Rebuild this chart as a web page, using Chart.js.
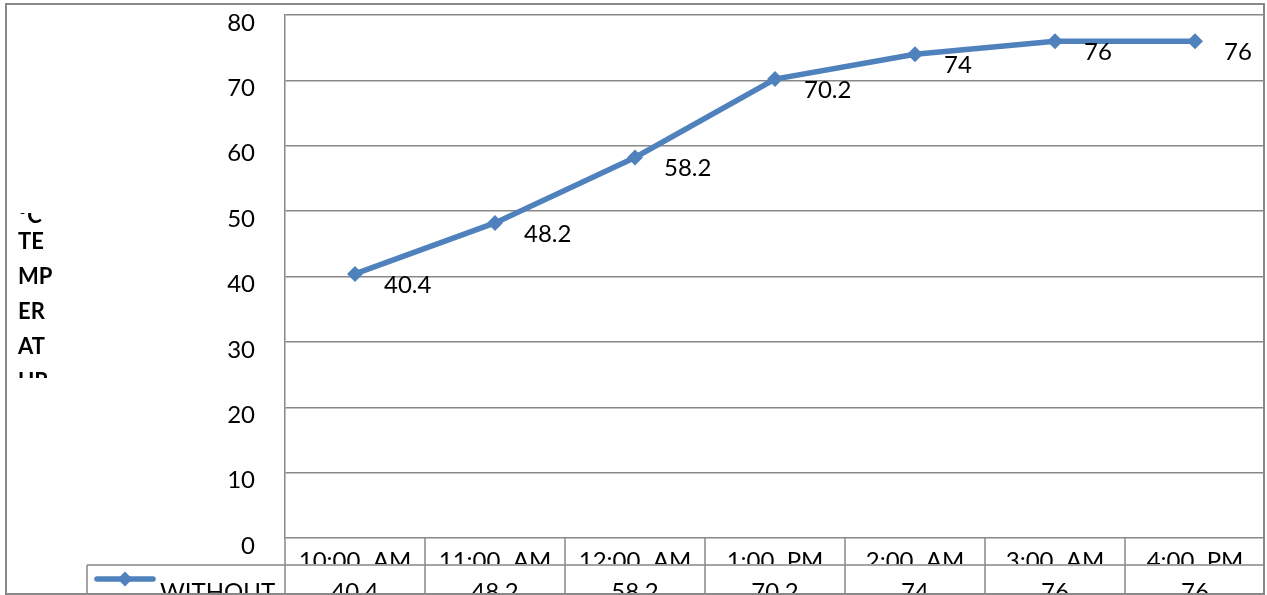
<!DOCTYPE html>
<html>
<head>
<meta charset="utf-8">
<script src="https://cdn.jsdelivr.net/npm/chart.js@4/dist/chart.umd.min.js"></script>
<style>
  html, body { margin: 0; padding: 0; background: #fff; }
  canvas { display: block; }
</style>
</head>
<body>
<canvas id="chart" width="1267" height="595"></canvas>
<script>
const timeLabels = ['10:00  AM', '11:00  AM', '12:00  AM', '1:00  PM', '2:00  AM', '3:00  AM', '4:00  PM'];
const tempValues = [40.4, 48.2, 58.2, 70.2, 74, 76, 76];
const seriesName = 'WITHOUT';
const axisTitleLines = ['°C', 'TE', 'MP', 'ER', 'AT', 'UR', 'E'];

const fontfam = 'Lato, "Open Sans", "DejaVu Sans", sans-serif';
const lineColor = '#4F81BD';
const gridColor = '#888888';

// diamond like the excel marker
const diamond = (ctx, x, y, r) => {
    ctx.beginPath();
    ctx.moveTo(x, y - r);
    ctx.lineTo(x + r, y);
    ctx.lineTo(x, y + r);
    ctx.lineTo(x - r, y);
    ctx.closePath();
    ctx.fill();
};

const pointLabels = {
    id: 'pointLabels',
    afterDatasetsDraw(chart) {
        const ctx = chart.ctx;
        const meta = chart.getDatasetMeta(0);
        ctx.save();
        ctx.font = `24px ${fontfam}`;
        ctx.fillStyle = '#000';
        ctx.textAlign = 'left';
        ctx.textBaseline = 'middle';
        meta.data.forEach((pt, i) => {
            ctx.fillText(String(tempValues[i]), pt.x + 29, pt.y + 11);
        });
        ctx.restore();
    }
};

const dataTable = {
    id: 'dataTable',
    afterDraw(chart) {
        const ctx = chart.ctx;
        const area = chart.chartArea;
        const xs = chart.scales.x;
        const colW = (area.right - area.left) / timeLabels.length;
        const top = area.bottom;
        const mid = top + 27;
        const bot = 594;
        const legendLeft = 87;

        ctx.save();
        ctx.strokeStyle = gridColor;
        ctx.lineWidth = 1.5;
        ctx.beginPath();
        ctx.moveTo(legendLeft, mid);
        ctx.lineTo(area.right, mid);
        for (let i = 0; i < timeLabels.length; i++) {
            const x = Math.round(area.left + i * colW);
            ctx.moveTo(x, top);
            ctx.lineTo(x, bot);
        }
        ctx.moveTo(legendLeft, mid);
        ctx.lineTo(legendLeft, bot);
        ctx.stroke();

        ctx.font = `24px ${fontfam}`;
        ctx.fillStyle = '#000';
        ctx.textAlign = 'center';
        ctx.textBaseline = 'alphabetic';
        timeLabels.forEach((lab, i) => {
            const cx = xs.getPixelForValue(i);
            const x0 = area.left + i * colW;
            ctx.save();
            ctx.beginPath();
            ctx.rect(x0 + 1, top + 1, colW - 2, mid - top - 2);
            ctx.clip();
            ctx.fillText(lab, cx, mid + 4);
            ctx.restore();
            ctx.save();
            ctx.beginPath();
            ctx.rect(x0 + 1, mid + 1, colW - 2, bot - mid - 2);
            ctx.clip();
            ctx.fillText(String(tempValues[i]), cx, bot + 6);
            ctx.restore();
        });

        // legend key in the table
        ctx.save();
        ctx.beginPath();
        ctx.rect(legendLeft + 1, mid + 1, area.left - legendLeft - 2, bot - mid - 2);
        ctx.clip();
        ctx.strokeStyle = lineColor;
        ctx.lineWidth = 5.5;
        ctx.lineCap = 'round';
        ctx.beginPath();
        ctx.moveTo(97, mid + 14);
        ctx.lineTo(153, mid + 14);
        ctx.stroke();
        ctx.fillStyle = lineColor;
        diamond(ctx, 125, mid + 14, 7.5);
        ctx.fillStyle = '#000';
        ctx.textAlign = 'left';
        ctx.fillText(seriesName, 160, bot + 6);
        ctx.restore();

        // axis title, cut by its box
        ctx.save();
        ctx.beginPath();
        ctx.rect(10, 213, 70, 165);
        ctx.clip();
        ctx.font = `bold 22px ${fontfam}`;
        ctx.textAlign = 'left';
        ctx.fillStyle = '#000';
        axisTitleLines.forEach((t, i) => {
            const y = i === 0 ? 223 : 249 + (i - 1) * 35;
            ctx.fillText(t, 18, y);
        });
        ctx.restore();

        // chart frame
        ctx.strokeStyle = gridColor;
        ctx.lineWidth = 2;
        ctx.strokeRect(6, 4, 1258, 590);
        ctx.restore();
    }
};

new Chart(document.getElementById('chart'), {
    type: 'line',
    data: {
        labels: timeLabels,
        datasets: [{
            label: seriesName,
            data: tempValues,
            borderColor: lineColor,
            backgroundColor: lineColor,
            borderWidth: 5.5,
            pointStyle: 'rectRot',
            pointRadius: 8,
            pointBorderWidth: 0,
            tension: 0
        }]
    },
    options: {
        responsive: false,
        animation: false,
        layout: {
            autoPadding: false,
            padding: { left: 0, top: 15, right: 2, bottom: 57 }
        },
        plugins: {
            legend: { display: false },
            tooltip: { enabled: false }
        },
        scales: {
            x: { display: false, offset: true },
            y: {
                min: 0,
                max: 80,
                ticks: {
                    stepSize: 10,
                    color: '#000',
                    font: { family: fontfam, size: 24 },
                    padding: 30,
                    labelOffset: 8
                },
                grid: { color: gridColor, lineWidth: 1.5, drawTicks: false },
                border: { color: gridColor, width: 1.5 },
                afterFit: s => {
                    s.width = 285;
                    s.paddingTop = 0;
                    s.paddingBottom = 0;
                }
            }
        }
    },
    plugins: [pointLabels, dataTable]
});
</script>
</body>
</html>
